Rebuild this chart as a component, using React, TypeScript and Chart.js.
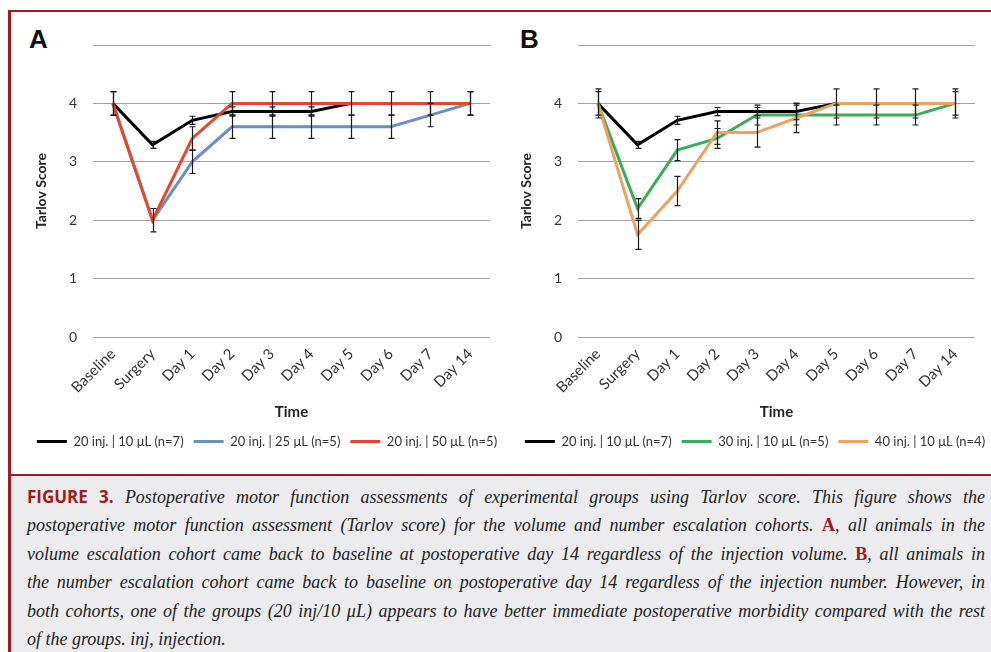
import React, { useEffect, useRef } from 'react';
import { Chart, registerables } from 'chart.js';

Chart.register(...registerables);

// ---------- data ----------
const categories = ['Baseline', 'Surgery', 'Day 1', 'Day 2', 'Day 3', 'Day 4', 'Day 5', 'Day 6', 'Day 7', 'Day 14'];
const yTicks = [0, 1, 2, 3, 4, 5];
const hiddenTickValue = 5;

// Panel A: volume escalation
const a20inj10uL = [4, 3.29, 3.71, 3.86, 3.86, 3.86, 4, 4, 4, 4];
const a20inj10uLErr = [0, 0.06, 0.07, 0.08, 0.08, 0.08, 0, 0, 0, 0];
const a20inj25uL = [4, 2, 3, 3.6, 3.6, 3.6, 3.6, 3.6, 3.8, 4];
const a20inj25uLErr = [0.2, 0, 0.2, 0.2, 0.2, 0.2, 0.2, 0.2, 0.2, 0.2];
const a20inj50uL = [4, 2, 3.4, 4, 4, 4, 4, 4, 4, 4];
const a20inj50uLErr = [0.2, 0.2, 0.2, 0.2, 0.2, 0.2, 0.2, 0.2, 0.2, 0.2];

// Panel B: number escalation
const b20inj10uL = [4, 3.29, 3.71, 3.86, 3.86, 3.86, 4, 4, 4, 4];
const b20inj10uLErr = [0, 0.06, 0.07, 0.07, 0.07, 0.14, 0, 0, 0, 0];
const b30inj10uL = [4, 2.2, 3.2, 3.4, 3.8, 3.8, 3.8, 3.8, 3.8, 4];
const b30inj10uLErr = [0.2, 0.17, 0.18, 0.17, 0.17, 0.17, 0.17, 0.17, 0.17, 0.2];
const b40inj10uL = [4, 1.75, 2.5, 3.5, 3.5, 3.75, 4, 4, 4, 4];
const b40inj10uLErr = [0.25, 0.25, 0.25, 0.2, 0.25, 0.25, 0.25, 0.25, 0.25, 0.25];

const labelsA = ['20 inj. | 10 μL (n=7)', '20 inj. | 25 μL (n=5)', '20 inj. | 50 μL (n=5)'];
const labelsB = ['20 inj. | 10 μL (n=7)', '30 inj. | 10 μL (n=5)', '40 inj. | 10 μL (n=4)'];
const colorsA = ['#000000', '#6b8fc4', '#e4472b'];
const colorsB = ['#000000', '#3cab5d', '#eea261'];

const yTitle = 'Tarlov Score';
const xTitle = 'Time';

// ---------- error bars plugin ----------
const errorBarPlugin = {
  id: 'errorBars',
  afterDatasetsDraw(chart: any) {
    const { ctx } = chart;
    const ys = chart.scales.y;
    ctx.save();
    ctx.strokeStyle = '#1a1a1a';
    ctx.lineWidth = 1.2;
    chart.data.datasets.forEach((ds: any, di: number) => {
      const meta = chart.getDatasetMeta(di);
      const errs: number[] = ds.errors || [];
      meta.data.forEach((pt: any, i: number) => {
        const e = errs[i];
        if (!e) return;
        const v = ds.data[i];
        const x = Math.round(pt.x) + 0.5;
        const yt = ys.getPixelForValue(v + e);
        const yb = ys.getPixelForValue(v - e);
        ctx.beginPath();
        ctx.moveTo(x, yt);
        ctx.lineTo(x, yb);
        ctx.moveTo(x - 3, yt);
        ctx.lineTo(x + 3, yt);
        ctx.moveTo(x - 3, yb);
        ctx.lineTo(x + 3, yb);
        ctx.stroke();
      });
    });
    ctx.restore();
  },
};

type PanelProps = {
  left: number;
  top: number;
  width: number;
  height: number;
  yAxisWidth: number;
  yTitlePad: number;
  rightAxisWidth: number;
  legendPad: number;
  series: number[][];
  errors: number[][];
  labels: string[];
  colors: string[];
};

function Panel(p: PanelProps) {
  const ref = useRef<HTMLCanvasElement | null>(null);
  useEffect(() => {
    if (!ref.current) return;
    const n = p.series.length;
    const chart = new Chart(ref.current, {
      type: 'line',
      data: {
        labels: categories,
        datasets: p.series.map((s, i) => ({
          label: p.labels[i],
          data: s,
          errors: p.errors[i],
          borderColor: p.colors[i],
          backgroundColor: p.colors[i],
          borderWidth: 3,
          pointRadius: 0,
          tension: 0,
          order: n - i,
          yAxisID: 'y',
        })) as any,
      },
      options: {
        animation: false,
        responsive: false,
        maintainAspectRatio: false,
        devicePixelRatio: 1,
        layout: { padding: { top: 30, right: 0, left: 0, bottom: 0 } },
        font: { family: 'Lato' },
        scales: {
          x: {
            type: 'category',
            offset: true,
            grid: { display: false, drawTicks: false },
            border: { display: false },
            ticks: {
              autoSkip: false,
              maxRotation: 45,
              minRotation: 45,
              padding: 8,
              color: '#333',
              font: { family: 'Lato', size: 15 },
            },
            title: {
              display: true,
              text: xTitle,
              color: '#222',
              font: { family: 'Lato', size: 15, weight: 'bold' },
              padding: { top: 4, bottom: 4 },
            },
            afterFit: (scale: any) => {
              scale.height = 88;
            },
          },
          y: {
            min: 0,
            max: 5,
            position: 'left',
            afterBuildTicks: (scale: any) => {
              scale.ticks = yTicks.map((v) => ({ value: v }));
            },
            grid: { color: '#a0a0a0', lineWidth: 1, drawTicks: false },
            border: { display: false },
            ticks: {
              padding: 16,
              color: '#333',
              font: { family: 'Lato', size: 14 },
              callback: (v: any) => (v === hiddenTickValue ? '' : String(v)),
            },
            title: {
              display: true,
              text: yTitle,
              color: '#222',
              font: { family: 'Lato', size: 14, weight: 'bold' },
              padding: { top: p.yTitlePad, bottom: 0 },
            },
            afterFit: (scale: any) => {
              scale.width = p.yAxisWidth;
            },
          },
          spacer: {
            type: 'linear',
            display: true,
            position: 'right',
            min: 0,
            max: 5,
            grid: { display: false, drawTicks: false },
            border: { display: false },
            ticks: { display: false },
            afterFit: (scale: any) => {
              scale.width = p.rightAxisWidth;
            },
          },
        },
        plugins: {
          legend: {
            display: true,
            position: 'bottom',
            labels: {
              boxWidth: 30,
              boxHeight: 3,
              padding: p.legendPad,
              color: '#333',
              font: { family: 'Lato', size: 13 },
              sort: (a: any, b: any) => a.datasetIndex - b.datasetIndex,
              generateLabels: (c: any) =>
                Chart.defaults.plugins.legend.labels.generateLabels(c).map((it: any) => ({
                  ...it,
                  lineWidth: 0,
                  strokeStyle: 'transparent',
                })),
            },
          },
          tooltip: { enabled: false },
        },
      } as any,
      plugins: [errorBarPlugin],
    });
    return () => chart.destroy();
  }, []);
  return (
    <canvas
      ref={ref}
      width={p.width}
      height={p.height}
      style={{ position: 'absolute', left: p.left, top: p.top, width: p.width, height: p.height }}
    />
  );
}

const RED = '#a01a22';

const captionLines: React.ReactNode[] = [
  <>
    <span style={{ fontFamily: '"Open Sans", sans-serif', fontStyle: 'normal', fontWeight: 700, color: RED, fontSize: 17 }}>
      FIGURE 3.
    </span>{' '}
    Postoperative motor function assessments of experimental groups using Tarlov score. This figure shows the
  </>,
  <>
    postoperative motor function assessment (Tarlov score) for the volume and number escalation cohorts.{' '}
    <b style={{ color: RED, fontStyle: 'normal' }}>A</b>, all animals in the
  </>,
  <>
    volume escalation cohort came back to baseline at postoperative day 14 regardless of the injection volume.{' '}
    <b style={{ color: RED, fontStyle: 'normal' }}>B</b>, all animals in
  </>,
  <>the number escalation cohort came back to baseline on postoperative day 14 regardless of the injection number. However, in</>,
  <>both cohorts, one of the groups (20 inj/10 μL) appears to have better immediate postoperative morbidity compared with the rest</>,
];
const captionLast = 'of the groups. inj, injection.';

export default function App() {
  return (
    <div
      style={{
        position: 'absolute',
        left: 0,
        top: 0,
        width: 991,
        height: 652,
        background: '#ffffff',
        overflow: 'hidden',
      }}
    >
      {/* frame */}
      <div style={{ position: 'absolute', left: 8, top: 10, width: 983, height: 2, background: RED }} />
      <div style={{ position: 'absolute', left: 8, top: 10, width: 3, height: 642, background: RED }} />
      {/* caption box */}
      <div style={{ position: 'absolute', left: 11, top: 474, width: 980, height: 178, background: '#ececee' }} />
      <div style={{ position: 'absolute', left: 11, top: 474, width: 980, height: 2, background: RED }} />

      <div style={{ position: 'absolute', left: 29, top: 26, fontFamily: '"Liberation Sans", Arial, sans-serif', fontWeight: 700, fontSize: 26, lineHeight: '26px', color: '#111' }}>A</div>
      <div style={{ position: 'absolute', left: 520, top: 26, fontFamily: '"Liberation Sans", Arial, sans-serif', fontWeight: 700, fontSize: 26, lineHeight: '26px', color: '#111' }}>B</div>

      <Panel
        left={12}
        top={15}
        width={510}
        height={443}
        yAxisWidth={81}
        yTitlePad={21}
        rightAxisWidth={32}
        legendPad={10}
        series={[a20inj10uL, a20inj25uL, a20inj50uL]}
        errors={[a20inj10uLErr, a20inj25uLErr, a20inj50uLErr]}
        labels={labelsA}
        colors={colorsA}
      />
      <Panel
        left={490}
        top={15}
        width={530}
        height={443}
        yAxisWidth={88}
        yTitlePad={28}
        rightAxisWidth={45}
        legendPad={10}
        series={[b20inj10uL, b30inj10uL, b40inj10uL]}
        errors={[b20inj10uLErr, b30inj10uLErr, b40inj10uLErr]}
        labels={labelsB}
        colors={colorsB}
      />

      <div
        style={{
          position: 'absolute',
          left: 27,
          top: 483,
          width: 958,
          fontFamily: '"Liberation Serif", "Times New Roman", serif',
          fontStyle: 'italic',
          fontSize: 18,
          lineHeight: '28.4px',
          color: '#222',
        }}
      >
        {captionLines.map((ln, i) => (
          <div key={i} style={{ textAlign: 'justify', textAlignLast: 'justify', whiteSpace: 'nowrap' as any }}>
            {ln}
          </div>
        ))}
        <div style={{ textAlign: 'left' }}>{captionLast}</div>
      </div>
    </div>
  );
}
